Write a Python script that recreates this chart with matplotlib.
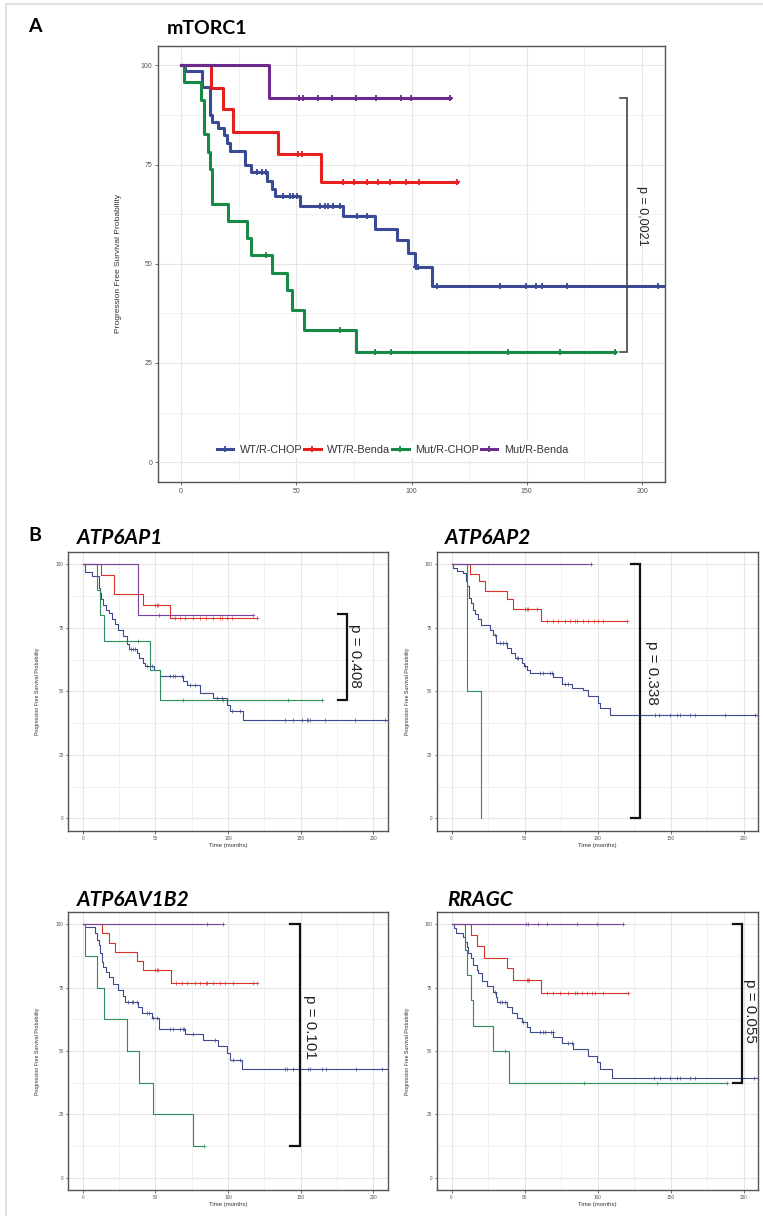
import numpy as np
import matplotlib
matplotlib.use('Agg')
import matplotlib.pyplot as plt
from matplotlib.lines import Line2D

plt.rcParams['font.family'] = ['Liberation Sans', 'DejaVu Sans']

grupos = ['WT/R-CHOP', 'WT/R-Benda', 'Mut/R-CHOP', 'Mut/R-Benda']
colores_a = ['#3A4A94', '#E5201E', '#178A46', '#6B2A8C']
colores_b = ['#3D4A8C', '#D8322C', '#2C8C5A', '#7B3F9C']

# ---- A: mTORC1 (tiempos de evento, supervivencia %, censuras, fin de seguimiento)
a_wt_chop_t = [1.5, 9.0, 12.6, 13.6, 16.2, 18.6, 19.8, 21.2, 27.8, 30.2, 37.2, 39.3, 40.8,
               51.6, 70.4, 84.1, 93.8, 98.6, 101.5, 108.7]
a_wt_chop_s = [98.6, 94.6, 87.5, 85.8, 84.2, 82.5, 80.4, 78.5, 74.9, 73.2, 70.8, 68.8, 67.0,
               64.5, 62.0, 58.8, 55.9, 52.6, 49.1, 44.5]
a_wt_chop_c = [32.8, 35.0, 36.7, 44.1, 47.3, 48.7, 50.2, 60.3, 62.4, 63.9, 66.0, 68.9, 76.2,
               80.5, 102.0, 102.6, 110.9, 138.6, 149.6, 154.2, 156.4, 167.3, 207.0]
a_wt_chop_fin = 210

a_wt_benda_t = [13.1, 18.3, 22.7, 41.9, 60.7]
a_wt_benda_s = [94.4, 88.9, 83.3, 77.8, 70.6]
a_wt_benda_c = [50.6, 52.6, 70.4, 75.2, 80.5, 85.3, 90.6, 97.6, 103.4]
a_wt_benda_fin = 119.8

a_mut_chop_t = [1.3, 8.8, 10.1, 11.8, 12.7, 13.6, 20.2, 28.8, 30.2, 39.3, 45.8, 48.3, 53.3, 75.8]
a_mut_chop_s = [95.7, 91.3, 82.6, 78.3, 73.9, 65.2, 60.9, 56.5, 52.2, 47.8, 43.5, 38.3, 33.3, 27.8]
a_mut_chop_c = [36.7, 69.1, 84.0, 91.0, 141.7, 164.5]
a_mut_chop_fin = 188.4

a_mut_benda_t = [38.0]
a_mut_benda_s = [91.7]
a_mut_benda_c = [51.2, 53.0, 59.5, 65.3, 76.1, 84.8, 95.3, 99.6]
a_mut_benda_fin = 116.6

# ---- B: ATP6AP1
b1_wt_chop_t = [1.6, 6.2, 11.0, 11.9, 12.6, 14.2, 16.0, 17.7, 19.9, 22.2, 24.5, 27.5, 30.3, 32.0,
                37.1, 39.0, 41.3, 42.9, 49.1, 53.2, 69.2, 71.5, 80.7, 89.9, 99.0, 101.3, 110.0]
b1_wt_chop_s = [97.0, 95.5, 90.8, 88.8, 86.2, 84.2, 82.0, 80.9, 78.6, 76.7, 74.1, 71.7, 68.8, 66.7,
                65.1, 63.2, 61.2, 60.1, 58.6, 56.2, 53.9, 52.6, 49.3, 47.4, 44.7, 42.1, 38.6]
b1_wt_chop_c = [33.0, 34.5, 36.0, 44.0, 45.9, 47.5, 60.1, 61.9, 63.5, 68.1, 73.8, 77.3, 92.2, 95.6,
                102.5, 108.2, 139.2, 144.9, 150.6, 154.1, 155.2, 156.4, 166.7, 187.3, 208.0]
b1_wt_chop_fin = 210

b1_wt_benda_t = [12.4, 21.5, 41.7, 60.0]
b1_wt_benda_s = [95.8, 88.2, 84.0, 79.0]
b1_wt_benda_c = [49.7, 50.9, 52.0, 63.5, 66.9, 70.4, 76.1, 80.7, 84.8, 89.9, 94.5, 95.6, 99.0, 102.5]
b1_wt_benda_fin = 119.7

b1_mut_chop_t = [10.1, 11.9, 14.7, 45.9, 53.2]
b1_mut_chop_s = [90.0, 80.0, 70.0, 58.3, 46.7]
b1_mut_chop_c = [38.3, 68.8, 96.7, 141.4]
b1_mut_chop_fin = 164.4

b1_mut_benda_t = [37.8]
b1_mut_benda_s = [80.0]
b1_mut_benda_c = [52.7]
b1_mut_benda_fin = 117.4

# ---- B: ATP6AP2
b2_wt_chop_t = [1.1, 3.4, 8.0, 9.6, 10.7, 12.1, 13.0, 14.4, 16.0, 18.3, 19.9, 26.3, 28.6, 30.4,
                37.7, 40.5, 43.4, 48.0, 49.6, 51.4, 53.7, 69.7, 75.4, 82.3, 90.3, 93.7, 100.6,
                101.7, 108.6]
b2_wt_chop_s = [98.7, 97.4, 96.7, 93.4, 91.4, 86.8, 84.6, 82.0, 80.3, 78.6, 76.0, 74.3, 72.0, 69.1,
                67.1, 65.1, 63.2, 61.2, 59.9, 58.3, 57.2, 55.7, 53.0, 51.3, 50.4, 48.0, 45.4,
                43.4, 40.8]
b2_wt_chop_c = [29.7, 33.2, 35.4, 37.3, 44.6, 45.7, 50.3, 60.6, 62.9, 67.4, 68.6, 77.7, 80.0,
                139.5, 141.7, 149.7, 154.3, 156.1, 163.5, 166.9, 187.5, 208.0]
b2_wt_chop_fin = 210

b2_wt_benda_t = [12.6, 19.0, 22.9, 38.2, 41.8, 61.0]
b2_wt_benda_s = [96.4, 93.4, 89.7, 86.4, 82.6, 77.9]
b2_wt_benda_c = [50.3, 51.4, 52.6, 58.3, 65.2, 69.7, 73.2, 77.7, 81.2, 84.6, 85.7, 90.3, 93.7,
                 97.2, 100.6, 104.0]
b2_wt_benda_fin = 120.0

b2_mut_chop_t = [10.7, 20.1]
b2_mut_chop_s = [50.0, 0.0]
b2_mut_chop_c = []
b2_mut_chop_fin = 20.1

b2_mut_benda_t = []
b2_mut_benda_s = []
b2_mut_benda_c = []
b2_mut_benda_fin = 95.3

# ---- B: ATP6AV1B2
b3_wt_chop_t = [1.6, 8.5, 10.1, 11.2, 11.9, 13.1, 14.2, 16.0, 17.7, 20.6, 24.5, 27.5, 29.1, 38.3,
                40.6, 47.5, 52.7, 70.4, 83.0, 93.3, 99.0, 101.3, 109.4]
b3_wt_chop_s = [98.8, 96.4, 93.8, 91.8, 88.6, 85.3, 83.3, 81.3, 79.3, 76.4, 74.1, 71.7, 69.5, 67.5,
                65.1, 62.9, 58.6, 56.7, 54.3, 52.0, 49.3, 46.4, 42.8]
b3_wt_chop_c = [31.4, 33.7, 34.8, 37.1, 44.0, 45.2, 48.6, 50.9, 60.1, 62.4, 66.9, 68.8, 69.7, 76.1,
                91.0, 103.6, 108.2, 139.2, 140.3, 144.4, 149.5, 155.2, 156.4, 164.4, 167.4,
                188.0, 206.0]
b3_wt_chop_fin = 210

b3_wt_benda_t = [13.1, 18.1, 22.2, 37.1, 41.7, 60.5]
b3_wt_benda_s = [96.4, 92.8, 88.9, 85.7, 82.0, 76.7]
b3_wt_benda_c = [49.7, 50.9, 52.0, 64.2, 68.1, 71.5, 77.3, 80.7, 84.8, 85.3, 89.9, 94.5, 97.9,
                 103.6, 117.4]
b3_wt_benda_fin = 119.7

b3_mut_chop_t = [1.6, 10.1, 14.7, 30.3, 38.7, 48.6, 75.7]
b3_mut_chop_s = [87.5, 75.0, 62.5, 50.0, 37.5, 25.0, 12.5]
b3_mut_chop_c = []
b3_mut_chop_fin = 83.4

b3_mut_benda_t = []
b3_mut_benda_s = []
b3_mut_benda_c = [85.3]
b3_mut_benda_fin = 96.3

# ---- B: RRAGC
b4_wt_chop_t = [1.6, 3.0, 8.0, 9.1, 10.3, 11.4, 13.0, 14.9, 17.1, 18.3, 20.6, 24.5, 28.6, 30.4,
                31.3, 37.7, 41.2, 44.6, 48.0, 51.4, 53.7, 69.7, 75.4, 83.4, 93.7, 99.5, 101.7,
                109.7]
b4_wt_chop_s = [98.4, 96.7, 95.1, 93.2, 90.9, 88.8, 86.6, 83.9, 82.0, 80.7, 77.8, 75.7, 73.4, 71.4,
                69.5, 67.5, 65.1, 62.9, 61.6, 59.6, 57.4, 55.7, 53.3, 50.7, 48.0, 45.8, 42.8,
                39.2]
b4_wt_chop_c = [29.7, 33.2, 34.3, 36.6, 48.7, 60.6, 62.4, 64.0, 67.9, 69.3, 80.0, 82.3, 138.8,
                142.9, 149.7, 154.3, 156.1, 163.5, 166.9, 207.0]
b4_wt_chop_fin = 210

b4_wt_benda_t = [13.0, 17.6, 22.4, 38.2, 42.3, 61.0]
b4_wt_benda_s = [95.8, 91.4, 86.7, 82.9, 78.0, 72.8]
b4_wt_benda_c = [51.4, 52.6, 53.3, 65.2, 69.7, 74.3, 80.0, 84.6, 85.7, 89.2, 92.6, 96.0, 98.3,
                 103.6]
b4_wt_benda_fin = 120.5

b4_mut_chop_t = [9.1, 10.7, 13.0, 14.9, 28.6, 39.3]
b4_mut_chop_s = [90.0, 80.0, 70.0, 60.0, 50.0, 37.5]
b4_mut_chop_c = [36.6, 90.8, 141.0]
b4_mut_chop_fin = 188.6

b4_mut_benda_t = []
b4_mut_benda_s = []
b4_mut_benda_c = [50.8, 52.6, 59.4, 65.2, 85.7, 99.5]
b4_mut_benda_fin = 117.3

# p-valores y corchetes (x, y_inf, y_sup)
p_textos = ['p = 0,0021', 'p = 0.408', 'p = 0.338', 'p = 0.101', 'p = 0.055']
corchetes = [(193.4, 27.8, 91.7), (182.0, 46.7, 80.3), (129.2, 0.0, 100.0),
             (149.4, 12.5, 100.0), (198.9, 37.5, 100.0)]
titulos_b = ['ATP6AP1', 'ATP6AP2', 'ATP6AV1B2', 'RRAGC']


def km(ax, t, s, cens, fin, color, lw, ms, marca_fin=True):
    x = np.r_[0.0, t, fin]
    y = np.r_[100.0, s, s[-1] if len(s) else 100.0]
    ax.step(x, y, where='post', color=color, lw=lw)
    c = list(cens) + ([fin] if marca_fin else [])
    if c:
        c = np.asarray(c, float)
        idx = np.searchsorted(x[:-1], c, side='right') - 1
        ax.plot(c, y[idx], ls='none', marker='+', color=color, ms=ms, mew=lw * 0.6)


def estilo(ax, fs_tick, tick_len):
    ax.set_xlim(-10, 210)
    ax.set_ylim(-5, 105)
    ax.set_xticks([0, 50, 100, 150, 200])
    ax.set_xticks([25, 75, 125, 175], minor=True)
    ax.set_yticks([0, 25, 50, 75, 100])
    ax.set_yticks([12.5, 37.5, 62.5, 87.5], minor=True)
    ax.grid(which='major', color='#E6E6E6', lw=0.8)
    ax.grid(which='minor', color='#EFEFEF', lw=0.6)
    ax.set_axisbelow(True)
    ax.tick_params(which='major', labelsize=fs_tick, labelcolor='#555555', color='#555555',
                   length=tick_len, width=0.6, pad=1.5)
    ax.tick_params(which='minor', length=0)
    for sp in ax.spines.values():
        sp.set_color('#555555')
        sp.set_linewidth(1.0)


def corchete(ax, x, y0, y1, largo, texto, x_txt, y_txt, color, lw, fs):
    ax.plot([x - largo, x, x, x - largo], [y1, y1, y0, y0], color=color, lw=lw,
            solid_joinstyle='miter', clip_on=False)
    ax.text(x_txt, y_txt, texto, rotation=-90, ha='center', va='center', fontsize=fs,
            color='#222222', clip_on=False)


fig = plt.figure(figsize=(7.63, 12.16), dpi=100)

# bordes del lienzo
fig.add_artist(Line2D([6 / 763, 6 / 763], [0, 1 - 4 / 1216], color='#E2E2E2', lw=1.5))
fig.add_artist(Line2D([6 / 763, 1], [1 - 4 / 1216, 1 - 4 / 1216], color='#E2E2E2', lw=1.5))

# ---------------- panel A
ax_a = fig.add_axes([0.2071, 0.6036, 0.6645, 0.3589])
estilo(ax_a, 5, 2.5)
km(ax_a, a_wt_chop_t, a_wt_chop_s, a_wt_chop_c, a_wt_chop_fin, colores_a[0], 2.2, 5, False)
km(ax_a, a_wt_benda_t, a_wt_benda_s, a_wt_benda_c, a_wt_benda_fin, colores_a[1], 2.2, 5)
km(ax_a, a_mut_chop_t, a_mut_chop_s, a_mut_chop_c, a_mut_chop_fin, colores_a[2], 2.2, 5)
km(ax_a, a_mut_benda_t, a_mut_benda_s, a_mut_benda_c, a_mut_benda_fin, colores_a[3], 2.2, 5)
ax_a.set_ylabel('Progression Free Survival Probability', fontsize=6, color='#333333')
ax_a.yaxis.set_label_coords(-0.072, 0.5)
x, y0, y1 = corchetes[0]
corchete(ax_a, x, y0, y1, 2.9, p_textos[0], 200, 62.0, '#444444', 1.2, 9)

manijas = [Line2D([], [], color=c, lw=2.2, marker='+', ms=5, mew=1.3) for c in colores_a]
leg = ax_a.legend(manijas, grupos, loc='center', bbox_to_anchor=(0.4625, 0.073), ncol=4,
                  fontsize=7.8, frameon=True, framealpha=1, edgecolor='none',
                  handlelength=1.5, handletextpad=0.6, columnspacing=0.2, borderpad=0.3)
for txt in leg.get_texts():
    txt.set_color('#333333')

fig.text(0.0367, 0.9778, 'A', fontsize=14, fontweight='bold', family='Lato', va='center')
fig.text(0.2189, 0.9762, 'mTORC1', fontsize=14, fontweight='bold', family='Lato', va='center')
fig.text(0.0367, 0.560, 'B', fontsize=14, fontweight='bold', family='Lato', va='center')

# ---------------- panel B
pos_b = [[0.0895, 0.3166, 0.4190, 0.2297], [0.5727, 0.3166, 0.4211, 0.2297],
         [0.0895, 0.0211, 0.4190, 0.2292], [0.5727, 0.0211, 0.4211, 0.2292]]
pos_titulo = [(0.1009, 0.5576), (0.5832, 0.5576), (0.1009, 0.2599), (0.5855, 0.2599)]
curvas_b = [
    [(b1_wt_chop_t, b1_wt_chop_s, b1_wt_chop_c, b1_wt_chop_fin),
     (b1_wt_benda_t, b1_wt_benda_s, b1_wt_benda_c, b1_wt_benda_fin),
     (b1_mut_chop_t, b1_mut_chop_s, b1_mut_chop_c, b1_mut_chop_fin),
     (b1_mut_benda_t, b1_mut_benda_s, b1_mut_benda_c, b1_mut_benda_fin)],
    [(b2_wt_chop_t, b2_wt_chop_s, b2_wt_chop_c, b2_wt_chop_fin),
     (b2_wt_benda_t, b2_wt_benda_s, b2_wt_benda_c, b2_wt_benda_fin),
     (b2_mut_chop_t, b2_mut_chop_s, b2_mut_chop_c, b2_mut_chop_fin),
     (b2_mut_benda_t, b2_mut_benda_s, b2_mut_benda_c, b2_mut_benda_fin)],
    [(b3_wt_chop_t, b3_wt_chop_s, b3_wt_chop_c, b3_wt_chop_fin),
     (b3_wt_benda_t, b3_wt_benda_s, b3_wt_benda_c, b3_wt_benda_fin),
     (b3_mut_chop_t, b3_mut_chop_s, b3_mut_chop_c, b3_mut_chop_fin),
     (b3_mut_benda_t, b3_mut_benda_s, b3_mut_benda_c, b3_mut_benda_fin)],
    [(b4_wt_chop_t, b4_wt_chop_s, b4_wt_chop_c, b4_wt_chop_fin),
     (b4_wt_benda_t, b4_wt_benda_s, b4_wt_benda_c, b4_wt_benda_fin),
     (b4_mut_chop_t, b4_mut_chop_s, b4_mut_chop_c, b4_mut_chop_fin),
     (b4_mut_benda_t, b4_mut_benda_s, b4_mut_benda_c, b4_mut_benda_fin)],
]
# posicion del texto del p-valor en cada panel B
p_pos = [(187.3, 63.8), (137.2, 57.4), (156.3, 59.6), (204.6, 66.0)]

for i in range(4):
    ax = fig.add_axes(pos_b[i])
    estilo(ax, 3.4, 1.8)
    for j, (t, s, c, fin) in enumerate(curvas_b[i]):
        marca = not (j == 0) and not (len(s) and s[-1] == 0)
        km(ax, t, s, c, fin, colores_b[j], 0.8, 3.5, marca)
    ax.set_ylabel('Progression Free Survival Probability', fontsize=3.8, color='#333333')
    ax.yaxis.set_label_coords(-0.09 if i % 2 == 0 else -0.084, 0.5)
    ax.set_xlabel('Time (months)', fontsize=4.3, color='#333333')
    ax.xaxis.set_label_coords(0.5, -0.043)
    x, y0, y1 = corchetes[i + 1]
    corchete(ax, x, y0, y1, 6.5, p_textos[i + 1], p_pos[i][0], p_pos[i][1], '#111111', 1.6, 11)
    fig.text(pos_titulo[i][0], pos_titulo[i][1], titulos_b[i], fontsize=15, fontweight='bold',
             fontstyle='italic', family='Lato', va='center')

fig.savefig('out.png', dpi=100, facecolor='white')
